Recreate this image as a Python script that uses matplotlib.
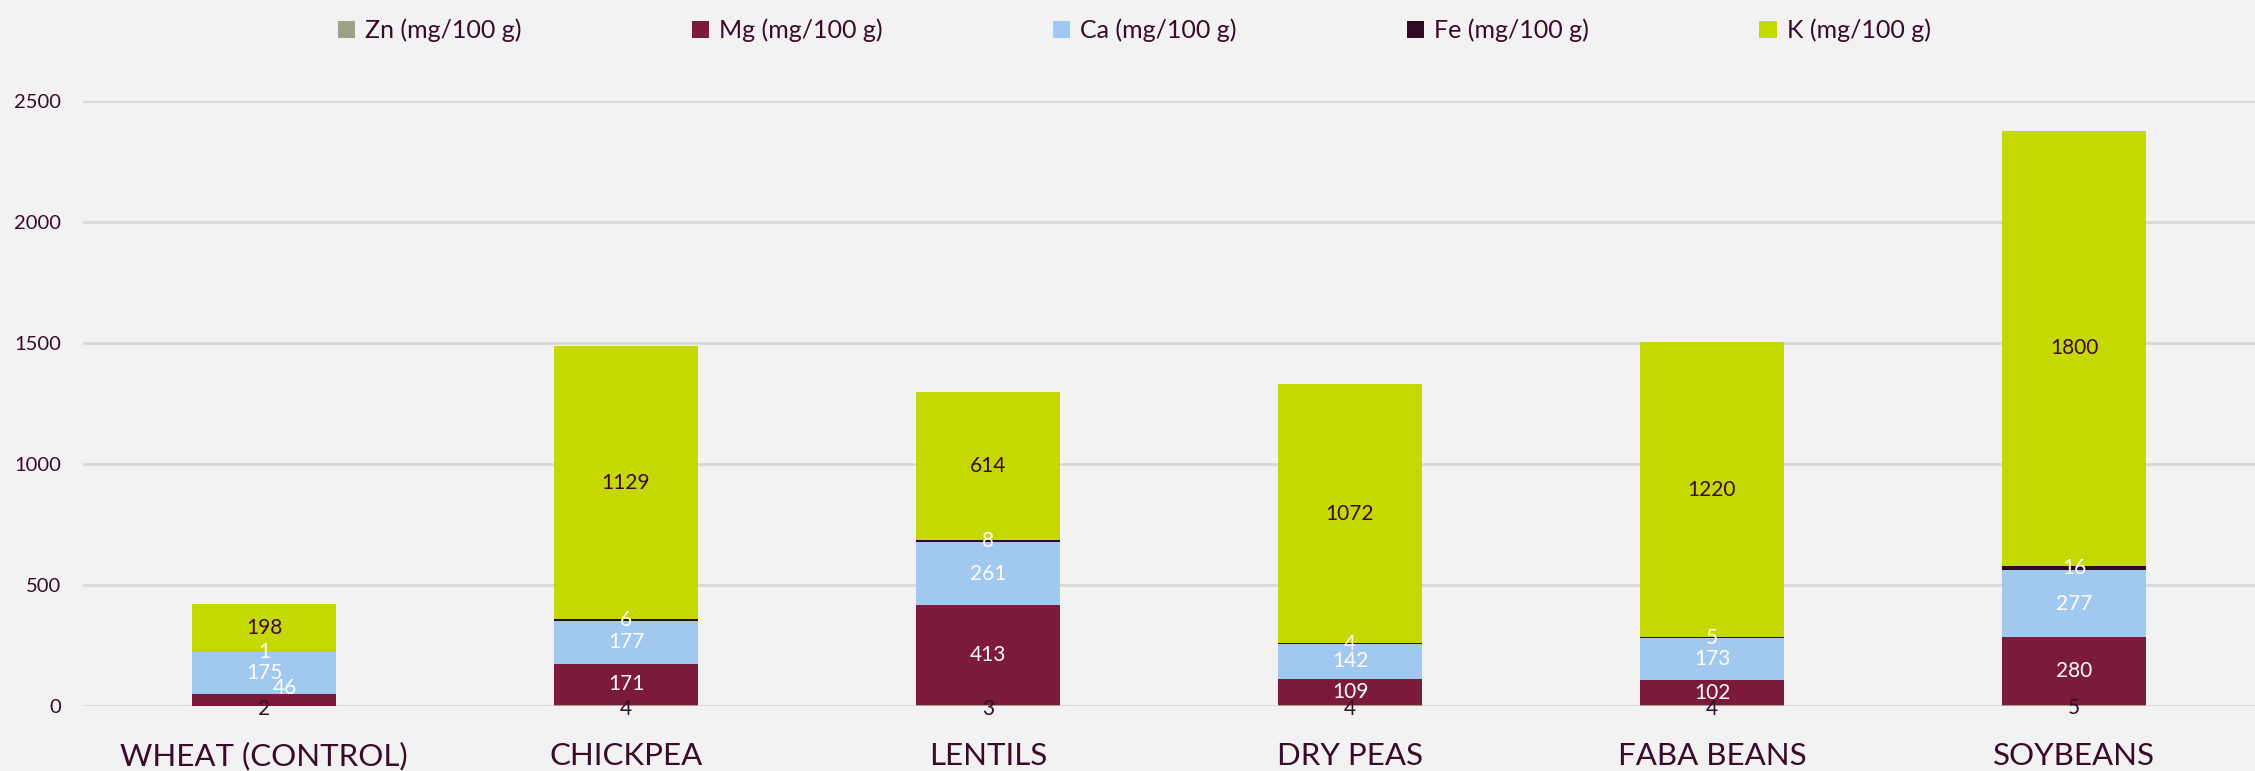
import matplotlib
matplotlib.use("Agg")
import matplotlib.pyplot as plt
import numpy as np

# data
crops = ["WHEAT (CONTROL)", "CHICKPEA", "LENTILS", "DRY PEAS", "FABA BEANS", "SOYBEANS"]
zn = [2, 4, 3, 4, 4, 5]
mg = [46, 171, 413, 109, 102, 280]
ca = [175, 177, 261, 142, 173, 277]
fe = [1, 6, 8, 4, 5, 16]
k = [198, 1129, 614, 1072, 1220, 1800]

series_names = ["Zn (mg/100 g)", "Mg (mg/100 g)", "Ca (mg/100 g)", "Fe (mg/100 g)", "K (mg/100 g)"]
yticks = [0, 500, 1000, 1500, 2000, 2500]

# styling
bg = "#f2f2f2"
txt = "#3b0a2a"
colors = ["#9fa08a", "#7b1a3a", "#a1c8ef", "#2e0a24", "#c5d900"]
label_colors = [txt, "white", "white", "white", txt]

plt.rcParams["font.family"] = ["Lato", "DejaVu Sans"]

fig = plt.figure(figsize=(22.55, 7.71), dpi=100, facecolor=bg)
ax = fig.add_axes([0.0368, 0.0843, 0.9632, 0.7847])
ax.set_facecolor(bg)

x = np.arange(len(crops))
bottom = np.zeros(len(crops))
values = [zn, mg, ca, fe, k]
for i, (vals, name) in enumerate(zip(values, series_names)):
    vals = np.array(vals, dtype=float)
    ax.bar(x, vals, 0.4, bottom=bottom, color=colors[i], label=name, zorder=3)
    for j, v in enumerate(vals):
        yc = bottom[j] + v / 2
        dx, dy = 0, 0
        if i == 0:
            dy = -3
        # Excel nudged the small wheat Mg label sideways
        if i == 1 and j == 0:
            dx, dy = 21, 12
        ax.annotate(f"{int(v)}", (x[j], yc), xytext=(dx, dy), textcoords="offset pixels",
                    ha="center", va="center", color=label_colors[i], fontsize=15, zorder=5)
    bottom += vals

ax.set_xlim(-0.5, len(crops) - 0.5)
ax.set_ylim(0, 2500)
ax.set_yticks(yticks)
ax.set_xticks(x)
ax.set_xticklabels(crops, fontsize=22.5, color=txt)
ax.tick_params(axis="x", length=0, pad=26)
ax.tick_params(axis="y", length=0, pad=16, labelsize=14.5, labelcolor=txt)
ax.grid(axis="y", color="#d9d9d9", linewidth=2, zorder=0)
for s in ax.spines.values():
    s.set_visible(False)

fig.legend(loc="upper center", bbox_to_anchor=(0.503, 1.005), ncol=5, frameon=False,
           fontsize=18, labelcolor=txt, handlelength=0.7, handleheight=0.7,
           handletextpad=0.4, columnspacing=6.8)

fig.savefig("out.png", dpi=100, facecolor=bg)
